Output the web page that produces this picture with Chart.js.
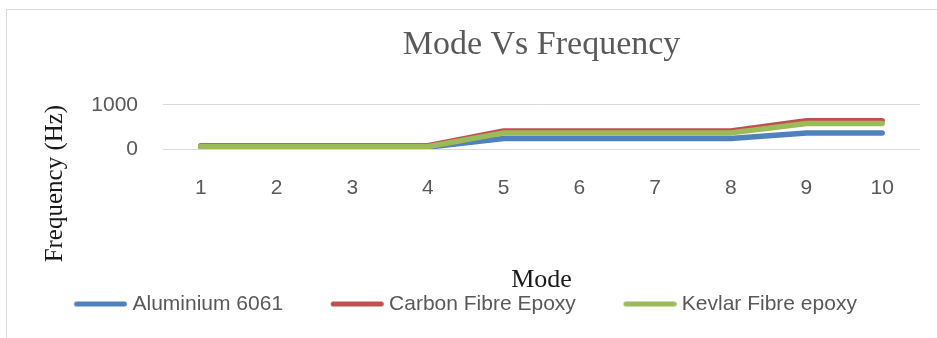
<!DOCTYPE html>
<html lang="en">
<head>
<meta charset="UTF-8">
<title>Mode Vs Frequency</title>
<script src="https://cdn.jsdelivr.net/npm/chart.js"></script>
<style>
    html, body { margin: 0; padding: 0; background: #fff; overflow: hidden; }
    #frame { position: absolute; left: 6px; top: 9px; width: 980px; height: 380px; border: 1px solid #d9d9d9; }
    #wrap { position: absolute; left: 0; top: 0; width: 937px; height: 338px; }
</style>
</head>
<body>

<div id="frame"></div>
<div id="wrap"><canvas id="chart"></canvas></div>

<script>
    var modes = ['1', '2', '3', '4', '5', '6', '7', '8', '9', '10']
    var aluminium = [45, 45, 45, 45, 238, 238, 238, 238, 364, 364]
    var carbon = [74, 74, 74, 74, 410, 410, 410, 410, 640, 640]
    var kevlar = [56, 56, 56, 56, 366, 366, 366, 366, 576, 576]
    var seriesNames = ['Aluminium 6061', 'Carbon Fibre Epoxy', 'Kevlar Fibre epoxy']
    var seriesColors = ['#4f81bd', '#c0504d', '#9bbb59']
    var yMin = 0, yMax = 1000, yStep = 1000

    var grey = '#595959'
    var sans = '"Liberation Sans", Arial, sans-serif'
    var serif = '"Liberation Serif", "Times New Roman", serif'

    // short round-capped line for the legend, with empty space on its left
    // (the empty part makes the gap between legend entries)
    function legendMark(color) {
        var c = document.createElement('canvas')
        c.width = 92
        c.height = 9
        var g = c.getContext('2d')
        g.strokeStyle = color
        g.lineWidth = 5
        g.lineCap = 'round'
        g.beginPath()
        g.moveTo(41.3, 4.5)
        g.lineTo(89.3, 4.5)
        g.stroke()
        return c
    }

    function series(i, values, order) {
        return {
            label: seriesNames[i],
            data: values,
            borderColor: seriesColors[i],
            backgroundColor: seriesColors[i],
            borderWidth: 5.5,
            borderCapStyle: 'round',
            borderJoinStyle: 'round',
            pointRadius: 0,
            pointHoverRadius: 0,
            tension: 0,
            order: order
        }
    }

    var canvas = document.getElementById('chart')
    var chart = new Chart(canvas, {
        type: 'line',
        data: {
            labels: modes,
            datasets: [
                series(0, aluminium, 2),
                series(1, carbon, 1),
                series(2, kevlar, 0)
            ]
        },
        options: {
            responsive: true,
            maintainAspectRatio: false,
            animation: false,
            layout: { padding: { left: 26.5, right: 17, top: 0, bottom: 13.5 } },
            plugins: {
                title: {
                    display: true,
                    text: 'Mode Vs Frequency',
                    fullSize: false,
                    color: grey,
                    font: { family: serif, size: 34, weight: 'normal' },
                    padding: { top: 25, bottom: 39 }
                },
                legend: {
                    position: 'bottom',
                    align: 'start',
                    labels: {
                        color: grey,
                        font: { family: sans, size: 21 },
                        usePointStyle: true,
                        pointStyleWidth: 81.5,
                        padding: 14,
                        sort: function (a, b) { return a.datasetIndex - b.datasetIndex },
                        generateLabels: function (c) {
                            var items = Chart.defaults.plugins.legend.labels.generateLabels(c)
                            items.forEach(function (it) {
                                it.pointStyle = legendMark(seriesColors[it.datasetIndex])
                            })
                            return items
                        }
                    }
                },
                tooltip: { enabled: false }
            },
            scales: {
                x: {
                    offset: true,
                    grid: { display: false, drawTicks: false },
                    border: { display: false },
                    ticks: {
                        color: grey,
                        font: { family: sans, size: 21 },
                        padding: 27,
                        autoSkip: false,
                        maxRotation: 0
                    },
                    title: {
                        display: true,
                        text: 'Mode',
                        color: '#1a1a1a',
                        font: { family: serif, size: 26 },
                        padding: { top: 36, bottom: -16 }
                    }
                },
                y: {
                    min: yMin,
                    max: yMax,
                    grid: { color: '#d9d9d9', lineWidth: 1, drawTicks: false },
                    border: { display: false },
                    ticks: {
                        stepSize: yStep,
                        autoSkip: false,
                        format: { useGrouping: false },
                        color: grey,
                        font: { family: sans, size: 21 },
                        padding: 25
                    },
                    title: {
                        display: true,
                        text: 'Frequency (Hz)',
                        align: 'end',
                        color: '#1a1a1a',
                        font: { family: serif, size: 25 },
                        padding: { top: 13.5, bottom: -3.7 }
                    }
                }
            }
        }
    })
</script>

</body>
</html>
